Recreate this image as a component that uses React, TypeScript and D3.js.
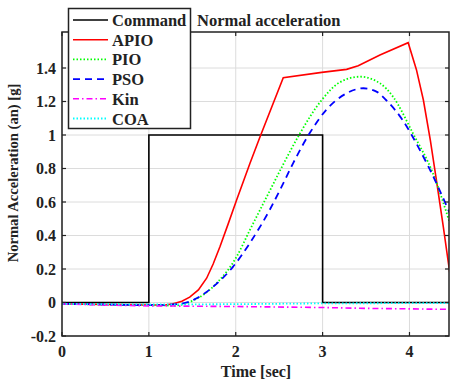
import React from "react";
import * as d3 from "d3";

const xTicks = [0, 1, 2, 3, 4];
const yTicks = [-0.2, 0, 0.2, 0.4, 0.6, 0.8, 1, 1.2, 1.4];
const yTickLabels = ["-0.2", "0", "0.2", "0.4", "0.6", "0.8", "1", "1.2", "1.4"];

const commandT = [0, 1, 1, 3, 3, 4.5];
const commandY = [0, 0, 1, 1, 0, 0];

const apioT = [0, 0.5, 1.0, 1.2, 1.28, 1.38, 1.47, 1.57, 1.665, 1.74, 1.818, 1.91, 2.01, 2.163, 2.28, 2.547, 2.99, 3.276, 3.41, 3.66, 3.985, 4.08, 4.16, 4.24, 4.31, 4.39, 4.465];
const apioY = [-0.008, -0.012, -0.015, -0.014, -0.008, 0.008, 0.032, 0.075, 0.145, 0.23, 0.333, 0.465, 0.612, 0.83, 0.99, 1.342, 1.374, 1.392, 1.414, 1.478, 1.551, 1.39, 1.209, 0.97, 0.731, 0.45, 0.174];

const pioT = [0, 0.5, 1.0, 1.3, 1.4, 1.51, 1.65, 1.78, 2.01, 2.16, 2.39, 2.547, 2.74, 2.99, 3.19, 3.43, 3.66, 3.81, 4.04, 4.27, 4.465];
const pioY = [-0.008, -0.012, -0.016, -0.018, -0.01, 0.012, 0.055, 0.115, 0.273, 0.43, 0.665, 0.825, 1.01, 1.209, 1.312, 1.348, 1.309, 1.229, 1.01, 0.771, 0.473];

const psoT = [0, 0.5, 1.0, 1.36, 1.55, 1.74, 1.97, 2.16, 2.39, 2.51, 2.66, 2.85, 3.04, 3.276, 3.47, 3.62, 3.73, 3.92, 4.12, 4.31, 4.465];
const psoY = [-0.008, -0.012, -0.016, -0.008, 0.025, 0.094, 0.214, 0.353, 0.552, 0.672, 0.831, 1.01, 1.149, 1.249, 1.279, 1.259, 1.209, 1.09, 0.91, 0.712, 0.532];

const kinT = [0, 0.5, 1.0, 1.5, 2, 3, 3.5, 4, 4.465];
const kinY = [-0.008, -0.015, -0.02, -0.022, -0.024, -0.03, -0.035, -0.038, -0.041];

const coaT = [0, 1, 2, 3, 4, 4.465];
const coaY = [-0.008, -0.012, -0.01, -0.005, -0.004, -0.004];

const seriesNames = ["Command", "APIO", "PIO", "PSO", "Kin", "COA"];

const FONT = "'Liberation Serif', 'Times New Roman', serif";

export default function App() {
  const W = 450, H = 382;
  const left = 62, right = 449, top = 32, bottom = 336;
  const x = d3.scaleLinear().domain([0, 4.455]).range([left, right]);
  const y = d3.scaleLinear().domain([-0.2, 1.6]).range([bottom, bottom - 1.8 * 167.5]);
  const yTopVal = y.invert(top);
  const yScale = d3.scaleLinear().domain([-0.2, yTopVal]).range([bottom, top]);

  const mk = (ts: number[], vs: number[], curve: any) =>
    d3.line<number>().x((_, i) => x(ts[i])).y((_, i) => yScale(vs[i])).curve(curve)(ts) || "";

  const series = [
    { name: seriesNames[0], d: mk(commandT, commandY, d3.curveLinear), color: "#000000", dash: "", w: 1.6 },
    { name: seriesNames[1], d: mk(apioT, apioY, d3.curveLinear), color: "#ff0000", dash: "", w: 1.6 },
    { name: seriesNames[2], d: mk(pioT, pioY, d3.curveMonotoneX), color: "#00ff00", dash: "1.5 2", w: 1.8 },
    { name: seriesNames[3], d: mk(psoT, psoY, d3.curveMonotoneX), color: "#0000ff", dash: "7 5", w: 1.8 },
    { name: seriesNames[4], d: mk(kinT, kinY, d3.curveLinear), color: "#ff00ff", dash: "6 3 1.5 3", w: 1.6 },
    { name: seriesNames[5], d: mk(coaT, coaY, d3.curveLinear), color: "#00ffff", dash: "1.5 2", w: 1.8 },
  ];
  const legX = 68.5, legY = 8.5, legW = 122, legH = 120;
  const rowY = (i: number) => 20 + i * 19.7;

  return (
    <svg width={W} height={H} style={{ position: "fixed", left: 0, top: 0, background: "#fff" }}>
      <defs>
        <clipPath id="plotclip">
          <rect x={left} y={top} width={right - left} height={bottom - top} />
        </clipPath>
      </defs>
      <rect x={0} y={0} width={W} height={H} fill="#fff" />
      {xTicks.map((t) => (
        <line key={"gx" + t} x1={x(t)} x2={x(t)} y1={top} y2={bottom} stroke="#dcdcdc" strokeWidth={1} />
      ))}
      {yTicks.map((t) => (
        <line key={"gy" + t} x1={left} x2={right} y1={yScale(t)} y2={yScale(t)} stroke="#dcdcdc" strokeWidth={1} />
      ))}
      <g clipPath="url(#plotclip)">
        {series.map((s) => (
          <path key={s.name} d={s.d} fill="none" stroke={s.color} strokeWidth={s.w} strokeDasharray={s.dash || undefined} />
        ))}
      </g>
      <rect x={left} y={top} width={right - left} height={bottom - top} fill="none" stroke="#222" strokeWidth={1.5} />
      {xTicks.map((t) => (
        <g key={"tx" + t}>
          <line x1={x(t)} x2={x(t)} y1={bottom} y2={bottom - 4} stroke="#222" strokeWidth={1.2} />
          <line x1={x(t)} x2={x(t)} y1={top} y2={top + 4} stroke="#222" strokeWidth={1.2} />
          <text x={x(t)} y={357} textAnchor="middle" fontFamily={FONT} fontWeight="bold" fontSize={16} fill="#222">
            {String(t)}
          </text>
        </g>
      ))}
      {yTicks.map((t, i) => (
        <g key={"ty" + t}>
          <line x1={left} x2={left + 4} y1={yScale(t)} y2={yScale(t)} stroke="#222" strokeWidth={1.2} />
          <line x1={right} x2={right - 4} y1={yScale(t)} y2={yScale(t)} stroke="#222" strokeWidth={1.2} />
          <text x={56} y={yScale(t) + 5.5} textAnchor="end" fontFamily={FONT} fontWeight="bold" fontSize={16} fill="#222">
            {yTickLabels[i]}
          </text>
        </g>
      ))}
      <text x={256} y={377} textAnchor="middle" fontFamily={FONT} fontWeight="bold" fontSize={16} fill="#222">
        Time [sec]
      </text>
      <text transform={`translate(18,173) rotate(-90)`} textAnchor="middle" fontFamily={FONT} fontWeight="bold" fontSize={14.6} fill="#222">
        Normal Acceleration (an) [g]
      </text>
      <text x={197} y={26} fontFamily={FONT} fontWeight="bold" fontSize={16.5} fill="#222">
        Normal acceleration
      </text>
      <rect x={legX} y={legY} width={legW} height={legH} fill="#fff" stroke="#222" strokeWidth={1.5} />
      {series.map((s, i) => (
        <g key={"lg" + s.name}>
          <line x1={73} x2={108} y1={rowY(i)} y2={rowY(i)} stroke={s.color} strokeWidth={s.w} strokeDasharray={s.dash || undefined} />
          <text x={112} y={rowY(i) + 6} fontFamily={FONT} fontWeight="bold" fontSize={16.5} fill="#222">
            {s.name}
          </text>
        </g>
      ))}
    </svg>
  );
}
